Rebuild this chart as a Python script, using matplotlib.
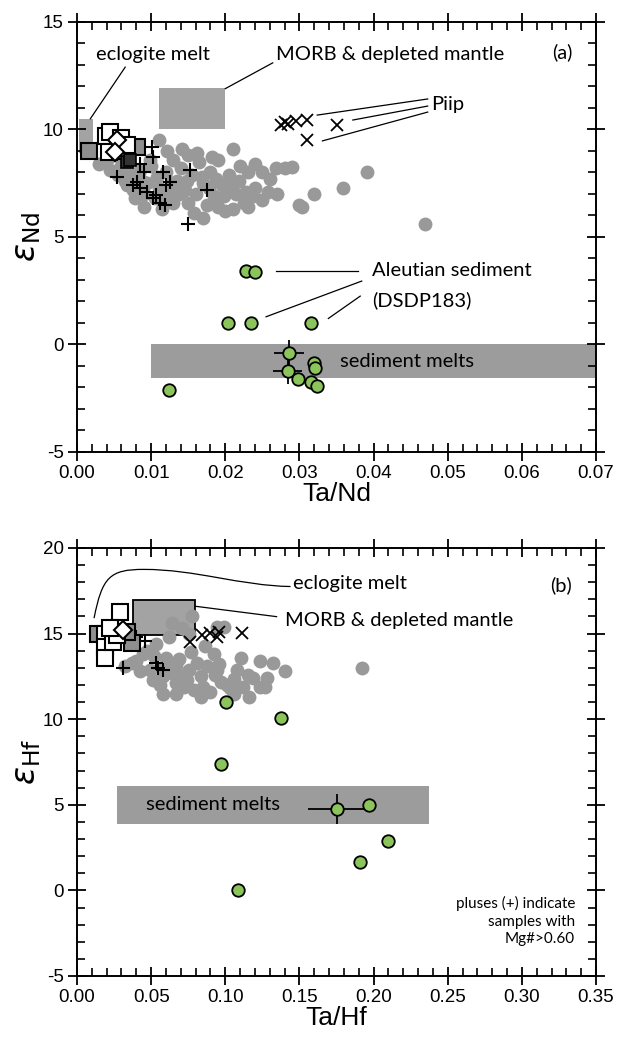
import matplotlib.pyplot as plt
import numpy as np
from matplotlib.path import Path
from matplotlib.patches import PathPatch, Rectangle
from matplotlib.ticker import MultipleLocator

plt.rcParams['font.family'] = ['Liberation Sans', 'DejaVu Sans']
plt.rcParams['axes.unicode_minus'] = False
ann_font = 'Lato'

# ---------------- panel (a): Ta/Nd vs eNd ----------------
gray_a_x = [0.003, 0.004, 0.005, 0.006, 0.0065, 0.007, 0.0075, 0.008, 0.0085, 0.009,
            0.009, 0.0095, 0.010, 0.0105, 0.011, 0.011, 0.0115, 0.012, 0.0125, 0.013,
            0.013, 0.0135, 0.014, 0.0145, 0.015, 0.015, 0.0155, 0.016, 0.0165, 0.017,
            0.017, 0.0175, 0.018, 0.0185, 0.019, 0.019, 0.0195, 0.020, 0.0205, 0.021,
            0.021, 0.0215, 0.022, 0.0225, 0.023, 0.023, 0.024, 0.024, 0.025, 0.025,
            0.026, 0.027, 0.028, 0.029, 0.030, 0.0303, 0.032, 0.0359, 0.0391, 0.0469,
            0.0045, 0.0055, 0.0068, 0.0078, 0.0088, 0.0098, 0.0108, 0.0118, 0.0128, 0.0138,
            0.0148, 0.0158, 0.0168, 0.0178, 0.0188, 0.0198, 0.0208, 0.0218, 0.0228, 0.0238,
            0.0122, 0.0142, 0.0162, 0.0182, 0.0258, 0.0268]
gray_a_y = [8.4, 8.6, 8.8, 8.3, 7.6, 8.0, 7.2, 7.7, 8.1, 7.0,
            6.4, 7.5, 8.3, 6.8, 9.5, 7.3, 6.3, 8.0, 7.0, 8.6,
            6.6, 7.6, 8.2, 7.2, 6.6, 8.8, 7.9, 7.0, 8.5, 5.9,
            7.5, 6.5, 8.0, 6.9, 6.4, 8.6, 7.4, 6.2, 7.9, 9.1,
            6.3, 7.0, 8.3, 6.6, 8.0, 6.4, 8.4, 7.3, 8.0, 6.7,
            7.7, 7.0, 8.2, 8.25, 6.5, 6.4, 7.0, 7.3, 8.0, 5.6,
            8.1, 7.9, 7.4, 6.8, 7.6, 8.6, 7.8, 6.9, 7.5, 7.0,
            7.6, 6.1, 7.8, 7.3, 7.7, 6.9, 7.4, 7.6, 7.1, 6.9,
            9.0, 9.1, 8.9, 8.7, 7.1, 8.2]

green_a_x = [0.0228, 0.0240, 0.0204, 0.0235, 0.0316, 0.0286, 0.0284, 0.0298,
             0.0320, 0.0321, 0.0316, 0.0324, 0.0124]
green_a_y = [3.42, 3.38, 0.98, 0.98, 0.98, -0.39, -1.24, -1.6,
             -0.85, -1.09, -1.75, -1.94, -2.1]
err_a_x = [0.0286, 0.0284]
err_a_y = [-0.39, -1.24]

plus_a_x = [0.0054, 0.0081, 0.0085, 0.0094, 0.0103, 0.0112, 0.0119, 0.0101, 0.0103,
            0.0085, 0.0091, 0.0116, 0.0125, 0.012, 0.0152, 0.0175, 0.015, 0.0076, 0.0107]
plus_a_y = [7.8, 7.55, 7.3, 7.1, 6.8, 6.6, 6.5, 9.2, 8.7,
            8.4, 8.0, 8.0, 7.55, 7.4, 8.1, 7.2, 5.6, 7.4, 6.95]

piip_a_x = [0.0275, 0.028, 0.0285, 0.0295, 0.031, 0.031, 0.035]
piip_a_y = [10.2, 10.35, 10.25, 10.4, 10.45, 9.5, 10.2]

sq_open_a_x = [0.0039, 0.0045, 0.0043, 0.0058, 0.006, 0.0068]
sq_open_a_y = [9.71, 9.9, 8.94, 9.0, 9.6, 9.3]
sq_gray_a_x = [0.0016, 0.0081]
sq_gray_a_y = [9.01, 9.2]
sq_dark_a_x = [0.0067, 0.0072]
sq_dark_a_y = [8.5, 8.6]
dia_a_x = [0.0054, 0.0051]
dia_a_y = [9.51, 8.97]

# ---------------- panel (b): Ta/Hf vs eHf ----------------
gray_b_x = [0.140, 0.1324, 0.1237, 0.1282, 0.1237, 0.1161, 0.1105, 0.1058, 0.1035, 0.097,
            0.0945, 0.0923, 0.088, 0.0836, 0.079, 0.077, 0.0755, 0.0713, 0.0667, 0.0667,
            0.0578, 0.0578, 0.0512, 0.049, 0.0423, 0.040, 0.0445, 0.053, 0.062, 0.0641,
            0.071, 0.0775, 0.0945, 0.099, 0.0755, 0.0372, 0.0327, 0.0836, 0.0667, 0.106,
            0.192, 0.115, 0.090, 0.060, 0.086, 0.047, 0.072,
            0.056, 0.064, 0.069, 0.081, 0.093, 0.101, 0.108, 0.119, 0.127, 0.074,
            0.059, 0.052, 0.085, 0.096, 0.112]
gray_b_y = [12.83, 13.3, 13.4, 12.43, 11.9, 11.3, 13.6, 12.37, 11.8, 12.2,
            12.9, 13.8, 13.1, 12.5, 11.7, 13.9, 12.9, 12.5, 12.1, 13.1,
            11.5, 12.5, 12.3, 12.9, 12.8, 13.4, 13.8, 14.4, 14.8, 15.6,
            15.3, 16.0, 15.4, 15.4, 15.0, 13.3, 13.1, 11.3, 11.5, 11.5,
            13.0, 12.6, 11.6, 13.6, 14.3, 14.0, 11.9,
            12.0, 12.7, 13.5, 13.3, 12.6, 12.0, 12.9, 12.4, 11.9, 12.3,
            13.0, 13.7, 11.9, 13.2, 11.9]

green_b_x = [0.1004, 0.1375, 0.0973, 0.197, 0.1755, 0.210, 0.191, 0.1085]
green_b_y = [11.0, 10.07, 7.39, 4.96, 4.76, 2.9, 1.63, 0.0]
err_b_x = [0.1755]
err_b_y = [4.76]

plus_b_x = [0.031, 0.0458, 0.053, 0.0545, 0.058, 0.040]
plus_b_y = [13.0, 14.55, 13.3, 13.0, 12.85, 14.8]

piip_b_x = [0.0762, 0.084, 0.0896, 0.0946, 0.096, 0.111]
piip_b_y = [14.53, 14.92, 15.02, 14.8, 15.1, 15.02]

sq_open_b_x = [0.029, 0.0189, 0.0189, 0.0189, 0.0245, 0.027, 0.022]
sq_open_b_y = [16.26, 15.0, 14.24, 13.6, 14.5, 14.9, 15.3]
sq_gray_b_x = [0.0142, 0.0369, 0.0335]
sq_gray_b_y = [14.98, 14.45, 15.1]
dia_b_x = [0.031]
dia_b_y = [15.2]

gray_c = '#999999'
box_c = '#a3a3a3'
green_c = '#8cc45c'

fig = plt.figure(figsize=(6.17, 10.41), dpi=100)
ax1 = fig.add_axes([77 / 617, 1 - 452 / 1041, 519 / 617, 430 / 1041])
ax2 = fig.add_axes([77 / 617, 1 - 976 / 1041, 519 / 617, 428 / 1041])


def style(ax, xmaj, xmin):
    ax.xaxis.set_major_locator(MultipleLocator(xmaj))
    ax.xaxis.set_minor_locator(MultipleLocator(xmin))
    ax.yaxis.set_major_locator(MultipleLocator(5))
    ax.yaxis.set_minor_locator(MultipleLocator(1))
    ax.tick_params(which='major', direction='inout', length=13, width=1.3,
                   top=True, right=True, labelsize=13.5, pad=3)
    ax.tick_params(which='minor', direction='in', length=5.5, width=1.2,
                   top=True, right=True)
    for s in ax.spines.values():
        s.set_linewidth(1.4)


def markers(ax, gx, gy, px, py, xx, xy, sox, soy, sgx, sgy, dx, dy,
            grx, gry, ex, ey, exerr, eyerr):
    ax.plot(gx, gy, 'o', color=gray_c, ms=10, mec='none', zorder=2)
    ax.plot(px, py, '+', color='black', ms=10, mew=1.5, zorder=4)
    ax.plot(xx, xy, 'x', color='black', ms=8.5, mew=1.3, zorder=4)
    ax.plot(sgx, sgy, 's', mfc='#8f8f8f', mec='black', ms=11, mew=1.5, zorder=5)
    ax.plot(sox, soy, 's', mfc='white', mec='black', ms=11, mew=1.5, zorder=5)
    ax.plot(dx, dy, 'D', mfc='white', mec='black', ms=9, mew=1.5, zorder=6)
    ax.errorbar(ex, ey, xerr=exerr, yerr=eyerr, fmt='none', ecolor='black',
                elinewidth=1.3, capsize=0, zorder=6)
    ax.plot(grx, gry, 'o', mfc=green_c, mec='black', ms=9, mew=1.3, zorder=7)


# ----- panel (a)
style(ax1, 0.01, 0.002)
ax1.set_xlim(0, 0.07)
ax1.set_ylim(-5, 15)
ax1.xaxis.set_major_formatter(plt.FormatStrFormatter('%.2f'))
ax1.add_patch(Rectangle((0.010, -1.55), 0.06, 1.55, color='#9c9c9c', lw=0, zorder=1))
ax1.add_patch(Rectangle((0.011, 10.0), 0.009, 1.95, color=box_c, lw=0, zorder=1))
ax1.add_patch(Rectangle((0.0003, 8.9), 0.0019, 1.6, color=box_c, lw=0, zorder=1))
markers(ax1, gray_a_x, gray_a_y, plus_a_x, plus_a_y, piip_a_x, piip_a_y,
        sq_open_a_x, sq_open_a_y, sq_gray_a_x, sq_gray_a_y, dia_a_x, dia_a_y,
        green_a_x, green_a_y, err_a_x, err_a_y, 0.002, 0.6)
ax1.plot(sq_dark_a_x, sq_dark_a_y, 's', mfc='#333333', mec='black', ms=9, mew=1.2, zorder=5)

tk = dict(fontsize=14.5, family=ann_font, color='black')
lk = dict(color='black', lw=0.9, zorder=3)
ax1.text(0.0025, 13.5, 'eclogite melt', va='center', **tk)
ax1.plot([0.0065, 0.0018], [12.9, 10.5], **lk)
ax1.text(0.0268, 13.5, 'MORB & depleted mantle', va='center', **tk)
ax1.plot([0.0264, 0.0200], [13.1, 11.9], **lk)
ax1.text(0.0668, 13.6, '(a)', ha='right', va='center', **tk)
ax1.text(0.0478, 11.15, 'Piip', va='center', **tk)
ax1.plot([0.0473, 0.0324], [11.42, 10.67], **lk)
ax1.plot([0.0473, 0.0372], [11.09, 10.44], **lk)
ax1.plot([0.0473, 0.0331], [10.81, 9.47], **lk)
ax1.text(0.0398, 3.42, 'Aleutian sediment', va='center', **tk)
ax1.text(0.0398, 2.05, '(DSDP183)', va='center', **tk)
ax1.plot([0.0268, 0.0379], [3.42, 3.42], **lk)
ax1.plot([0.0384, 0.0255], [2.95, 1.29], **lk)
ax1.plot([0.0382, 0.0339], [2.25, 1.21], **lk)
ax1.text(0.0445, -0.78, 'sediment melts', ha='center', va='center', **tk)
ax1.set_xlabel('Ta/Nd', fontsize=19, labelpad=0)
ax1.set_ylabel(r'$\varepsilon_{\mathrm{Nd}}$', fontsize=24, labelpad=0)

# ----- panel (b)
style(ax2, 0.05, 0.01)
ax2.set_xlim(0, 0.35)
ax2.set_ylim(-5, 20)
ax2.xaxis.set_major_formatter(plt.FormatStrFormatter('%.2f'))
ax2.add_patch(Rectangle((0.027, 3.86), 0.2103, 2.22, color='#9c9c9c', lw=0, zorder=1))
ax2.add_patch(Rectangle((0.0375, 14.9), 0.042, 2.06, fc=box_c, ec='black', lw=1.3, zorder=1))
markers(ax2, gray_b_x, gray_b_y, plus_b_x, plus_b_y, piip_b_x, piip_b_y,
        sq_open_b_x, sq_open_b_y, sq_gray_b_x, sq_gray_b_y, dia_b_x, dia_b_y,
        green_b_x, green_b_y, err_b_x, err_b_y, 0.02, 0.9)

curve = Path([(0.0115, 15.9), (0.017, 18.3), (0.022, 18.75), (0.045, 18.75),
              (0.08, 18.75), (0.11, 17.8), (0.144, 17.75)],
             [Path.MOVETO, Path.CURVE4, Path.CURVE4, Path.CURVE4,
              Path.CURVE4, Path.CURVE4, Path.CURVE4])
ax2.add_patch(PathPatch(curve, fc='none', ec='black', lw=0.9, zorder=3))
ax2.text(0.1456, 17.9, 'eclogite melt', va='center', **tk)
ax2.plot([0.0795, 0.1346], [16.6, 15.99], **lk)
ax2.text(0.1402, 15.75, 'MORB & depleted mantle', va='center', **tk)
ax2.text(0.3335, 17.8, '(b)', ha='right', va='center', **tk)
ax2.text(0.0915, 5.0, 'sediment melts', ha='center', va='center', **tk)
ax2.text(0.336, -1.8, 'pluses (+) indicate\nsamples with\nMg#>0.60', ha='right',
         va='center', fontsize=11, family=ann_font, linespacing=1.3)
ax2.set_xlabel('Ta/Hf', fontsize=19, labelpad=0)
ax2.set_ylabel(r'$\varepsilon_{\mathrm{Hf}}$', fontsize=24, labelpad=0)

fig.savefig('out.png', dpi=100)
